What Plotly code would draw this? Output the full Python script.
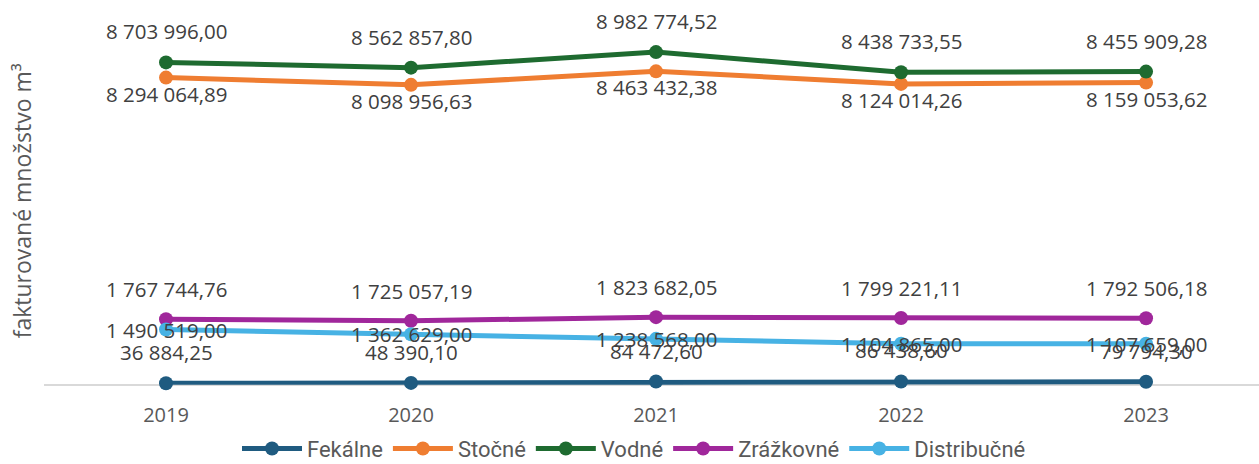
import plotly.graph_objects as go

years = ["2019", "2020", "2021", "2022", "2023"]
fekalne = [36884.25, 48390.10, 84472.60, 86438.60, 79794.30]
stocne = [8294064.89, 8098956.63, 8463432.38, 8124014.26, 8159053.62]
vodne = [8703996.00, 8562857.80, 8982774.52, 8438733.55, 8455909.28]
zrazkovne = [1767744.76, 1725057.19, 1823682.05, 1799221.11, 1792506.18]
distribucne = [1490519.00, 1362629.00, 1238568.00, 1104865.00, 1107659.00]

series = [
    ("Fekálne", fekalne, "#1F5B80", 31),
    ("Stočné", stocne, "#EF7D31", -16),
    ("Vodné", vodne, "#1E6B30", 31),
    ("Zrážkovné", zrazkovne, "#A0279B", 30),
    ("Distribučné", distribucne, "#47B2E4", 0),
]

def fmt(v):
    return f"{v:,.2f}".replace(",", " ").replace(".", ",")

xs = list(range(len(years)))
fig = go.Figure()
annotations = []
for name, vals, color, shift in series:
    fig.add_trace(go.Scatter(
        x=xs, y=vals, name=name, mode="lines+markers",
        line=dict(color=color, width=5),
        marker=dict(color=color, size=14),
        cliponaxis=False,
    ))
    for x, v in zip(xs, vals):
        annotations.append(dict(
            x=x, y=v, xref="x", yref="y", text=fmt(v), showarrow=False,
            yshift=shift, font=dict(family="Open Sans", size=20.5, color="#404040"),
        ))

annotations.append(dict(
    x=-0.0185, y=0.478, xref="paper", yref="paper", xanchor="center", yanchor="middle",
    text="fakturované množstvo m³", textangle=-90, showarrow=False,
    font=dict(family="Open Sans", size=23, color="#595959"),
))

fig.update_layout(
    width=1259, height=464,
    margin=dict(l=44, r=0, t=0, b=77),
    paper_bgcolor="white", plot_bgcolor="white",
    showlegend=True,
    legend=dict(orientation="h", x=0.4856, xanchor="center",
                yref="container", y=0.033, yanchor="middle",
                font=dict(family="Roboto", size=22, color="#595959"),
                itemwidth=60, tracegroupgap=0),
    annotations=annotations,
)
fig.update_xaxes(
    range=[-0.498, 4.461], tickvals=xs, ticktext=years,
    showgrid=False, zeroline=False, showline=False,
    tickfont=dict(family="Open Sans", size=20, color="#595959"),
    ticks="", ticklabelstandoff=16,
)
fig.update_yaxes(
    range=[0, 10.39e6], showticklabels=False, showgrid=False,
    zeroline=True, zerolinecolor="#D9D9D9", zerolinewidth=1.5,
)
fig.write_html(
    "out.html",
    config={"displayModeBar": False},
    post_script="document.body.style.margin='0';document.body.style.overflow='hidden';",
)
